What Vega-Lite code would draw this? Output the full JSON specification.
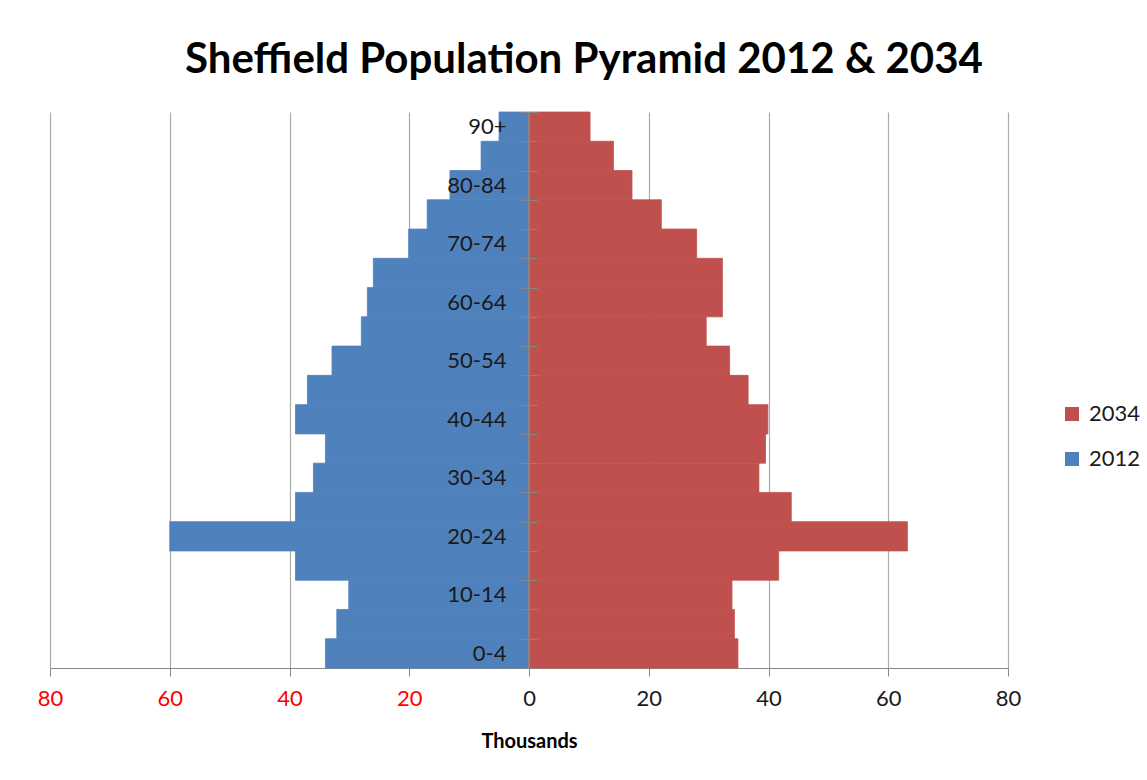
{
  "$schema": "https://vega.github.io/schema/vega-lite/v6.json",
  "width": 958,
  "height": 556,
  "autosize": {"type": "none"},
  "padding": {"left": 50, "top": 112, "right": 139, "bottom": 112},
  "background": "white",
  "title": {
    "text": "Sheffield Population Pyramid 2012 & 2034",
    "font": "Lato",
    "fontWeight": "bold",
    "fontSize": 42,
    "color": "black",
    "anchor": "middle",
    "dx": 55,
    "offset": 19
  },
  "data": {
    "values": [
      {"age": "0-4", "year": "2012", "thousands": -34.0},
      {"age": "5-9", "year": "2012", "thousands": -32.1},
      {"age": "10-14", "year": "2012", "thousands": -30.1},
      {"age": "15-19", "year": "2012", "thousands": -39.0},
      {"age": "20-24", "year": "2012", "thousands": -60.0},
      {"age": "25-29", "year": "2012", "thousands": -39.0},
      {"age": "30-34", "year": "2012", "thousands": -36.0},
      {"age": "35-39", "year": "2012", "thousands": -34.0},
      {"age": "40-44", "year": "2012", "thousands": -39.0},
      {"age": "45-49", "year": "2012", "thousands": -37.0},
      {"age": "50-54", "year": "2012", "thousands": -32.9},
      {"age": "55-59", "year": "2012", "thousands": -28.0},
      {"age": "60-64", "year": "2012", "thousands": -27.0},
      {"age": "65-69", "year": "2012", "thousands": -26.0},
      {"age": "70-74", "year": "2012", "thousands": -20.1},
      {"age": "75-79", "year": "2012", "thousands": -17.0},
      {"age": "80-84", "year": "2012", "thousands": -13.2},
      {"age": "85-89", "year": "2012", "thousands": -8.0},
      {"age": "90+", "year": "2012", "thousands": -5.0},
      {"age": "0-4", "year": "2034", "thousands": 34.9},
      {"age": "5-9", "year": "2034", "thousands": 34.3},
      {"age": "10-14", "year": "2034", "thousands": 33.9},
      {"age": "15-19", "year": "2034", "thousands": 41.7},
      {"age": "20-24", "year": "2034", "thousands": 63.2},
      {"age": "25-29", "year": "2034", "thousands": 43.8},
      {"age": "30-34", "year": "2034", "thousands": 38.4},
      {"age": "35-39", "year": "2034", "thousands": 39.5},
      {"age": "40-44", "year": "2034", "thousands": 39.9},
      {"age": "45-49", "year": "2034", "thousands": 36.6},
      {"age": "50-54", "year": "2034", "thousands": 33.5},
      {"age": "55-59", "year": "2034", "thousands": 29.6},
      {"age": "60-64", "year": "2034", "thousands": 32.3},
      {"age": "65-69", "year": "2034", "thousands": 32.3},
      {"age": "70-74", "year": "2034", "thousands": 28.0},
      {"age": "75-79", "year": "2034", "thousands": 22.1},
      {"age": "80-84", "year": "2034", "thousands": 17.2},
      {"age": "85-89", "year": "2034", "thousands": 14.1},
      {"age": "90+", "year": "2034", "thousands": 10.2}
    ]
  },
  "layer": [
    {
      "mark": {"type": "bar", "strokeWidth": 0.8},
      "encoding": {
        "y": {
          "field": "age",
          "type": "nominal",
          "sort": ["90+", "85-89", "80-84", "75-79", "70-74", "65-69", "60-64", "55-59", "50-54", "45-49", "40-44", "35-39", "30-34", "25-29", "20-24", "15-19", "10-14", "5-9", "0-4"],
          "scale": {"paddingInner": 0, "paddingOuter": 0},
          "axis": {
            "title": null,
            "orient": "left",
            "offset": -487,
            "domain": false,
            "tickBand": "extent",
            "tickSize": 16,
            "tickColor": "#888888",
            "tickWidth": 1,
            "labelPadding": 15,
            "labelFont": "Lato",
            "labelFontSize": 22,
            "labelColor": "#1a1a1a",
            "labelOverlap": false,
            "labelExpr": "indexof(['0-4','10-14','20-24','30-34','40-44','50-54','60-64','70-74','80-84','90+'], datum.value) >= 0 ? datum.value : ''",
            "zindex": 1,
            "grid": false
          }
        },
        "x": {
          "field": "thousands",
          "type": "quantitative",
          "stack": null,
          "scale": {"domain": [-80, 80], "nice": false},
          "axis": {
            "title": "Thousands",
            "titleFont": "Lato",
            "titleFontSize": 20,
            "titleFontWeight": "bold",
            "titleColor": "black",
            "titlePadding": 22,
            "values": [-80, -60, -40, -20, 0, 20, 40, 60, 80],
            "labelExpr": "abs(datum.value)",
            "labelFlush": false,
            "labelFont": "Lato",
            "labelFontSize": 22,
            "labelColor": {"condition": {"test": "datum.value < 0", "value": "#FF0000"}, "value": "#1a1a1a"},
            "labelPadding": 12,
            "tickSize": 8,
            "tickColor": "#888888",
            "domainColor": "#888888",
            "grid": true,
            "gridColor": "#ABABAB",
            "gridWidth": 1.2
          }
        },
        "color": {
          "field": "year",
          "type": "nominal",
          "scale": {"domain": ["2034", "2012"], "range": ["#C0504D", "#4F81BD"]},
          "legend": {
            "title": null,
            "orient": "none",
            "legendX": 1011,
            "legendY": 291,
            "symbolType": "square",
            "symbolSize": 196,
            "symbolStrokeWidth": 0,
            "labelFont": "Lato",
            "labelFontSize": 22,
            "labelColor": "#1a1a1a",
            "labelOffset": 6,
            "rowPadding": 23
          }
        },
        "stroke": {
          "field": "year",
          "type": "nominal",
          "scale": {"domain": ["2034", "2012"], "range": ["#C0504D", "#4F81BD"]},
          "legend": null
        }
      }
    },
    {
      "mark": {"type": "rule", "color": "#888888", "strokeWidth": 1.2},
      "encoding": {"x": {"datum": 0}}
    }
  ],
  "config": {"view": {"stroke": null}}
}
